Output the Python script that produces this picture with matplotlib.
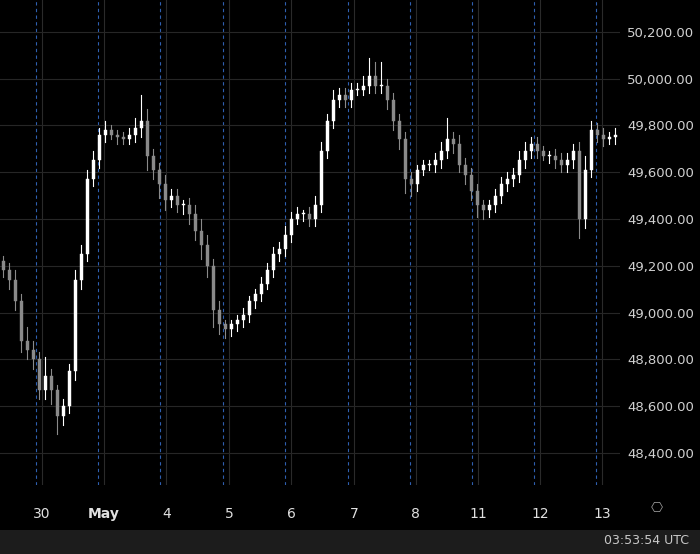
import matplotlib
matplotlib.use("Agg")
import matplotlib.pyplot as plt
from matplotlib.patches import Rectangle

closes = [49180, 49140, 49050, 48880, 48840, 48800, 48670, 48730, 48670, 48560,
          48600, 48750, 49140, 49250, 49570, 49650, 49760, 49780, 49760, 49750,
          49740, 49760, 49790, 49820, 49670, 49610, 49550, 49480, 49500, 49460,
          49460, 49420, 49350, 49290, 49200, 49010, 48950, 48930, 48950, 48970,
          48990, 49050, 49080, 49120, 49180, 49250, 49270, 49330, 49400, 49420,
          49420, 49400, 49460, 49690, 49820, 49910, 49930, 49910, 49950, 49950,
          49970, 50010, 49970, 49970, 49910, 49820, 49740, 49570, 49550, 49610,
          49630, 49630, 49650, 49690, 49740, 49720, 49630, 49590, 49520, 49460,
          49440, 49460, 49500, 49550, 49570, 49590, 49650, 49690, 49720, 49690,
          49670, 49670, 49650, 49630, 49650, 49690, 49400, 49610, 49780, 49760,
          49740, 49750, 49760]
first_open = 49220
wick_up = [20, 30, 40, 30, 60, 40, 30, 80, 30, 20, 30, 30, 40, 40, 40, 40, 30, 40, 20, 20,
           20, 30, 40, 110, 50, 30, 30, 40, 30, 30, 20, 30, 40, 50, 40, 30, 40, 20, 20, 20,
           30, 20, 20, 30, 30, 30, 30, 40, 30, 30, 20, 30, 40, 40, 30, 40, 30, 30, 30, 30,
           40, 80, 60, 100, 30, 30, 30, 30, 30, 20, 20, 20, 30, 40, 90, 30, 40, 30, 30, 30,
           20, 20, 30, 30, 30, 30, 40, 40, 30, 30, 20, 20, 30, 30, 30, 30, 40, 60, 40, 30,
           30, 20, 30]
wick_dn = [30, 40, 40, 50, 40, 40, 40, 40, 60, 80, 40, 30, 40, 40, 30, 30, 30, 30, 20, 30,
           20, 20, 30, 40, 60, 40, 60, 40, 30, 30, 40, 40, 40, 60, 50, 70, 40, 40, 30, 30,
           30, 30, 30, 30, 20, 30, 30, 30, 30, 20, 30, 30, 30, 30, 30, 30, 30, 30, 30, 20,
           20, 30, 30, 30, 40, 40, 40, 60, 50, 30, 20, 20, 30, 30, 30, 40, 30, 40, 40, 50,
           40, 30, 30, 30, 30, 30, 30, 30, 30, 30, 20, 30, 30, 30, 30, 30, 80, 40, 30, 30,
           30, 20, 30]

day_labels = ["30", "May", "4", "5", "6", "7", "8", "11", "12", "13"]
day_pos = [6.5, 16.8, 27.2, 37.7, 48.0, 58.5, 68.8, 79.2, 89.5, 99.8]
price_ticks = [48400, 48600, 48800, 49000, 49200, 49400, 49600, 49800, 50000, 50200]

fig = plt.figure(figsize=(7, 5.54), dpi=100, facecolor="black")
ax = fig.add_axes([0, 1 - 485 / 554, 620 / 700, 485 / 554], facecolor="black")

for x in day_pos:
    ax.axvline(x, color="#2a2a2a", lw=0.8, zorder=0)
    ax.axvline(x - 1.0, color="#2f5fb0", lw=0.8, ls=(0, (3, 3)), zorder=0)
for p in price_ticks:
    ax.axhline(p, color="#262626", lw=0.8, zorder=0)

opens = [first_open] + closes[:-1]
for i, (o, c) in enumerate(zip(opens, closes)):
    hi = max(o, c) + wick_up[i]
    lo = min(o, c) - wick_dn[i]
    col = "#ffffff" if c >= o else "#8a8a8a"
    ax.plot([i, i], [lo, hi], color=col, lw=0.8, zorder=2)
    ax.add_patch(Rectangle((i - 0.25, min(o, c)), 0.5, max(abs(c - o), 4),
                           facecolor=col, edgecolor=col, lw=0.3, zorder=3))

ax.set_xlim(-0.5, 620 / 6 - 0.5)
ax.set_ylim(48263, 50336)
ax.yaxis.tick_right()
ax.set_yticks(price_ticks)
ax.set_yticklabels([f"{p:,.2f}" for p in price_ticks])
ax.set_xticks(day_pos)
ax.set_xticklabels(day_labels)
ax.tick_params(axis="y", length=0, pad=5, colors="#d0d0d0", labelsize=9.5)
ax.tick_params(axis="x", length=0, pad=16, colors="#e0e0e0", labelsize=10)
for lbl in ax.get_xticklabels():
    if lbl.get_text() == "May":
        lbl.set_fontweight("bold")
for s in ax.spines.values():
    s.set_visible(False)

fig.patches.append(Rectangle((0, 0), 1, 24 / 554, transform=fig.transFigure,
                             facecolor="#1c1c1c", edgecolor="none"))
fig.text(0.985, 13 / 554, "03:53:54 UTC", color="#c8c8c8", fontsize=9,
         ha="right", va="center")
fig.text(657 / 700, 1 - 508 / 554, "⎔", color="#999999", fontsize=10,
         ha="center", va="center")

fig.savefig("out.png", dpi=100, facecolor="black")
